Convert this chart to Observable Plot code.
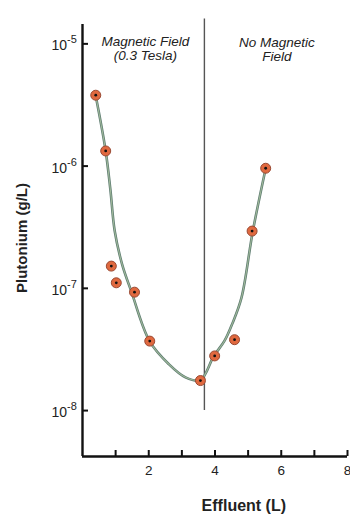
<!DOCTYPE html>
<html>
<head>
<meta charset="utf-8">
<script src="https://cdn.jsdelivr.net/npm/d3@7"></script>
<script src="https://cdn.jsdelivr.net/npm/@observablehq/plot@0.6"></script>
<style>
  html, body { margin: 0; padding: 0; background: #fff; }
  #chart svg { display: block; }
</style>
</head>
<body>
<div id="chart"></div>
<script>
// Measured data points
const effluent = [0.40, 0.70, 0.87, 1.02, 1.57, 2.03, 3.56, 3.99, 4.59, 5.12, 5.53];
const plutonium = [3.8e-6, 1.33e-6, 1.52e-7, 1.11e-7, 9.3e-8, 3.7e-8, 1.76e-8, 2.8e-8, 3.8e-8, 2.94e-7, 9.6e-7];

// Hand-drawn fitted curve
const curveX = [0.396, 0.699, 0.841, 0.971, 1.194, 1.476, 2.029, 2.604, 3.109, 3.562, 3.96, 4.29, 4.52, 4.80, 5.14, 5.53];
const curveY = [3.79e-6, 1.33e-6, 6.44e-7, 2.96e-7, 1.58e-7, 9.40e-8, 3.68e-8, 2.40e-8, 1.87e-8, 1.78e-8, 2.78e-8, 3.73e-8, 5.12e-8, 8.39e-8, 2.92e-7, 9.57e-7];

// Axes
const xDomain = [0, 8];
const yDomain = [4.21e-9, 1.44e-5];
const xTickValues = [1, 2, 3, 4, 5, 6, 7, 8];
const xTickLabels = [2, 4, 6, 8];
const yTickValues = [1e-5, 1e-6, 1e-7, 1e-8];
const yTickExponents = ["-5", "-6", "-7", "-8"];

// Divider between regions
const dividerX = [3.68];
const dividerY = [1e-8, 1.6e-5];

// Annotations
const noteText = ["Magnetic Field\n(0.3 Tesla)", "No Magnetic\nField"];
const noteX = [1.90, 5.87];
const noteY = [9.15e-6, 9.0e-6];

const xLabel = "Effluent (L)";
const xLabelPos = [4.87];
const yLabel = "Plutonium (g/L)";
const yLabelPos = [2.58e-7];

const W = 350, H = 514, mL = 82, mR = 3, mT = 24, mB = 58;
const frameW = W - mL - mR, frameH = H - mT - mB, tickLen = 6;
const font = "'Liberation Sans', Arial, Helvetica, sans-serif";

const points = effluent.map((x, i) => ({x, y: plutonium[i]}));
const curve = curveX.map((x, i) => ({x, y: curveY[i]}));
const notes = noteText.map((t, i) => ({t, x: noteX[i], y: noteY[i]}));
const yTicks = yTickValues.map((v, i) => ({v, e: yTickExponents[i]}));

const chart = Plot.plot({
  width: W, height: H,
  marginLeft: mL, marginRight: mR, marginTop: mT, marginBottom: mB,
  style: {fontFamily: font, background: "#fff", overflow: "visible"},
  x: {domain: xDomain, axis: null},
  y: {type: "log", domain: yDomain, axis: null},
  marks: [
    // divider
    Plot.ruleX(dividerX, {x: d => d, y1: dividerY[0], y2: dividerY[1], stroke: "#555", strokeWidth: 1.4}),
    // axis lines
    Plot.ruleX([0], {stroke: "#111", strokeWidth: 2.4}),
    Plot.ruleY([yDomain[0]], {x1: xDomain[0], x2: xDomain[1], stroke: "#111", strokeWidth: 2.4}),
    // inward ticks
    Plot.tickX(xTickValues, {x: d => d, insetTop: frameH - tickLen, stroke: "#111", strokeWidth: 2}),
    Plot.tickY(yTickValues, {y: d => d, insetRight: frameW - tickLen, stroke: "#111", strokeWidth: 2}),
    // x tick labels
    Plot.text(xTickLabels, {x: d => d, y: yDomain[0], text: d => String(d), dy: 14, fontSize: 13.5, fill: "#222", lineAnchor: "middle"}),
    // y tick labels 10^n
    Plot.text(yTicks, {x: 0, y: "v", text: () => "10", dx: -15.5, dy: 2, textAnchor: "end", fontSize: 14, fill: "#222"}),
    Plot.text(yTicks, {x: 0, y: "v", text: "e", dx: -15.5, dy: -4, textAnchor: "start", fontSize: 11, fill: "#222"}),
    // axis labels
    Plot.text([yLabel], {x: 0, y: yLabelPos[0], dx: -60, rotate: -90, fontSize: 15, fontWeight: "bold", fill: "#222"}),
    Plot.text([xLabel], {x: xLabelPos[0], y: yDomain[0], dy: 49, fontSize: 16, fontWeight: "bold", fill: "#222"}),
    // annotations
    Plot.text(notes, {x: "x", y: "y", text: "t", fontSize: 13.5, fontStyle: "italic", fill: "#222", lineHeight: 1.0}),
    // fitted curve
    Plot.line(curve, {x: "x", y: "y", curve: "catmull-rom", stroke: "#5f7d72", strokeWidth: 2.6}),
    Plot.line(curve, {x: "x", y: "y", curve: "catmull-rom", stroke: "#9fb89a", strokeWidth: 1.1}),
    // data points
    Plot.dot(points, {x: "x", y: "y", r: 5, fill: "#e0693f", stroke: "#9a4a34", strokeWidth: 1}),
    Plot.dot(points, {x: "x", y: "y", r: 1.4, fill: "#111"})
  ]
});
document.getElementById("chart").append(chart);
</script>
</body>
</html>
